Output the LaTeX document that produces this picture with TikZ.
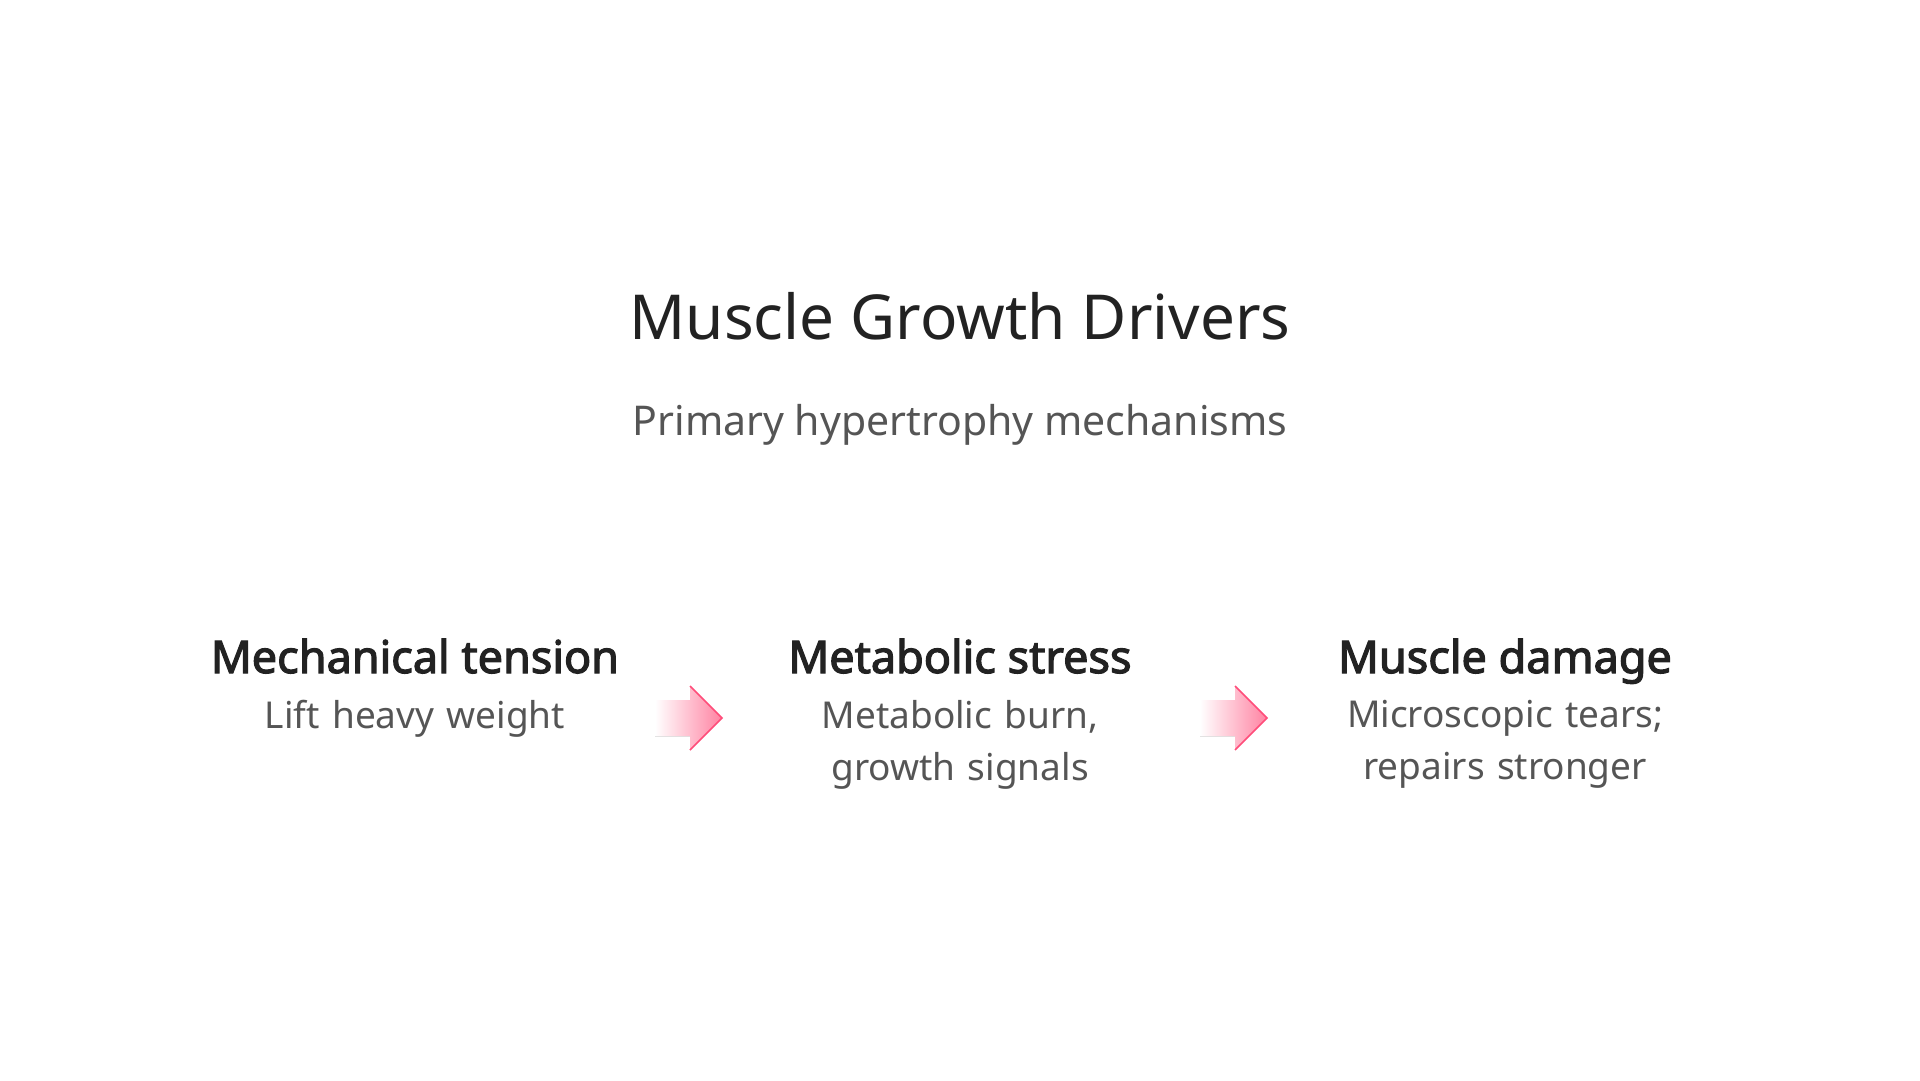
\documentclass[tikz,border=0pt]{standalone}
\usepackage{fontspec}
\setmainfont{Noto Sans}
\newfontfamily\hbold{Noto Sans}[FakeBold=2.6]
\definecolor{tx}{HTML}{222222}
\definecolor{sub}{HTML}{555555}
\definecolor{pk}{HTML}{FF4D7A}
\begin{document}
\begin{tikzpicture}[x=1pt,y=-1pt,
  title/.style={font=\fontsize{62}{72}\selectfont,text=tx},
  subt/.style={font=\fontsize{41}{48}\selectfont,text=sub},
  head/.style={font=\hbold\fontsize{45}{52}\selectfont,text=tx,anchor=base},
  desc/.style={font=\fontsize{37}{52}\selectfont,text=sub,align=center,text width=470pt,anchor=north}]
\useasboundingbox (0,0) rectangle (1920,1080);
\node[title] (t) at (960,316) {Muscle Growth Drivers};
\node[subt] (s) at (960,425) {Primary hypertrophy mechanisms};
\foreach \n/\x/\h/\d in {a/415/Mechanical tension/Lift heavy weight,
  b/960/Metabolic stress/{Metabolic burn, growth signals},
  c/1505/Muscle damage/{Microscopic tears; repairs stronger}}{
  \node[head] (h\n) at (\x,673) {\h};
  \node[desc] (d\n) at (\x,697) {\d};
}
\foreach \x/\n in {655/ar1,1200/ar2}{
  \begin{scope}[shift={(\x,0)}]
  \fill[left color=white,right color=pk!70] (0,700) -- (35,700) -- (35,686) -- (67,718) -- (35,750) -- (35,736) -- (0,736) -- cycle;
  \draw[pk,line width=1.5pt,line join=miter] (35,686) -- (67,718) -- (35,750);
  \coordinate (\n) at (33,718);
  \end{scope}
}
\end{tikzpicture}
\end{document}
